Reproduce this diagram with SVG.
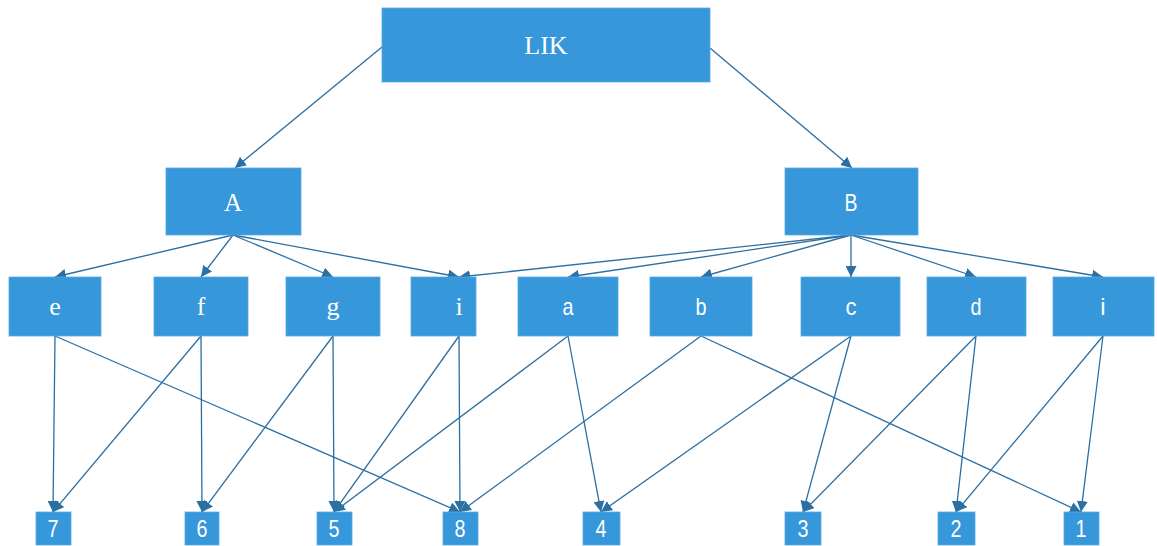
<svg xmlns="http://www.w3.org/2000/svg" width="1157" height="546" viewBox="0 0 1157 546">
<style>
.box{fill:#3697da;stroke:#5aaae0;stroke-width:0.8}
.serif{font-family:"Liberation Serif","DejaVu Serif",serif;fill:#fff;text-anchor:middle}
.sans{font-family:"Liberation Sans Narrow","Liberation Sans",sans-serif;fill:#fff;text-anchor:middle}
.edge{stroke:#2c6fa3;stroke-width:1.3;fill:none;marker-end:url(#ah)}
</style>
<defs>
<marker id="ah" viewBox="0 0 10 10" refX="10" refY="5" markerWidth="11" markerHeight="11" markerUnits="userSpaceOnUse" orient="auto">
<path d="M0,0 L10,5 L0,10 z" fill="#2c6fa3"/>
</marker>
</defs>
<rect width="1157" height="546" fill="#fff"/>
<g id="connectors">
<line class="edge" x1="382" y1="47" x2="235" y2="168"/>
<line class="edge" x1="710" y1="48" x2="852" y2="168"/>
<line class="edge" x1="233" y1="235" x2="55" y2="277"/>
<line class="edge" x1="233" y1="235" x2="201" y2="277"/>
<line class="edge" x1="233" y1="235" x2="333" y2="277"/>
<line class="edge" x1="233" y1="235" x2="459" y2="277"/>
<line class="edge" x1="851" y1="235" x2="459" y2="277"/>
<line class="edge" x1="851" y1="235" x2="568" y2="277"/>
<line class="edge" x1="851" y1="235" x2="701" y2="277"/>
<line class="edge" x1="851" y1="235" x2="851" y2="277"/>
<line class="edge" x1="851" y1="235" x2="976" y2="277"/>
<line class="edge" x1="851" y1="235" x2="1103" y2="277"/>
<line class="edge" x1="55" y1="336" x2="53" y2="512"/>
<line class="edge" x1="55" y1="336" x2="460" y2="512"/>
<line class="edge" x1="201" y1="336" x2="53" y2="512"/>
<line class="edge" x1="201" y1="336" x2="202" y2="512"/>
<line class="edge" x1="333" y1="336" x2="202" y2="512"/>
<line class="edge" x1="333" y1="336" x2="334" y2="512"/>
<line class="edge" x1="459" y1="336" x2="334" y2="512"/>
<line class="edge" x1="459" y1="336" x2="460" y2="512"/>
<line class="edge" x1="568" y1="336" x2="334" y2="512"/>
<line class="edge" x1="568" y1="336" x2="601" y2="512"/>
<line class="edge" x1="701" y1="336" x2="460" y2="512"/>
<line class="edge" x1="701" y1="336" x2="1081" y2="512"/>
<line class="edge" x1="851" y1="336" x2="601" y2="512"/>
<line class="edge" x1="851" y1="336" x2="803" y2="512"/>
<line class="edge" x1="976" y1="336" x2="803" y2="512"/>
<line class="edge" x1="976" y1="336" x2="956" y2="512"/>
<line class="edge" x1="1103" y1="336" x2="956" y2="512"/>
<line class="edge" x1="1103" y1="336" x2="1081" y2="512"/>
</g>
<g id="n-LIK"><rect class="box" x="382" y="8" width="328" height="74"/><text class="serif" x="546" y="54" font-size="26">LIK</text></g>
<g id="n-A"><rect class="box" x="166" y="168" width="135" height="67"/><text class="serif" x="233" y="211" font-size="25">A</text></g>
<g id="n-B"><rect class="box" x="785" y="168" width="133" height="67"/><text class="sans" x="851" y="211" font-size="24" textLength="13" lengthAdjust="spacingAndGlyphs">B</text></g>
<g id="n-e"><rect class="box" x="9" y="277" width="92" height="59"/><text class="serif" x="55" y="315" font-size="26">e</text></g>
<g id="n-f"><rect class="box" x="154" y="277" width="94" height="59"/><text class="serif" x="201" y="315" font-size="26">f</text></g>
<g id="n-g"><rect class="box" x="286" y="277" width="94" height="59"/><text class="serif" x="333" y="315" font-size="26">g</text></g>
<g id="n-i1"><rect class="box" x="411" y="277" width="65" height="59"/><text class="serif" x="459" y="315" font-size="26">i</text></g>
<g id="n-a"><rect class="box" x="518" y="277" width="100" height="59"/><text class="sans" x="568" y="315" font-size="24" textLength="11" lengthAdjust="spacingAndGlyphs">a</text></g>
<g id="n-b"><rect class="box" x="650" y="277" width="102" height="59"/><text class="sans" x="701" y="315" font-size="24" textLength="11" lengthAdjust="spacingAndGlyphs">b</text></g>
<g id="n-c"><rect class="box" x="801" y="277" width="99" height="59"/><text class="sans" x="851" y="315" font-size="24" textLength="11" lengthAdjust="spacingAndGlyphs">c</text></g>
<g id="n-d"><rect class="box" x="927" y="277" width="99" height="59"/><text class="sans" x="976" y="315" font-size="24" textLength="11" lengthAdjust="spacingAndGlyphs">d</text></g>
<g id="n-i2"><rect class="box" x="1053" y="277" width="101" height="59"/><text class="sans" x="1103" y="315" font-size="24">i</text></g>
<g id="n-7"><rect class="box" x="36" y="512" width="35" height="33"/><text class="sans" x="53" y="537" font-size="24" textLength="11" lengthAdjust="spacingAndGlyphs">7</text></g>
<g id="n-6"><rect class="box" x="185" y="512" width="34" height="33"/><text class="sans" x="202" y="537" font-size="24" textLength="11" lengthAdjust="spacingAndGlyphs">6</text></g>
<g id="n-5"><rect class="box" x="317" y="512" width="35" height="33"/><text class="sans" x="334" y="537" font-size="24" textLength="11" lengthAdjust="spacingAndGlyphs">5</text></g>
<g id="n-8"><rect class="box" x="443" y="512" width="35" height="33"/><text class="sans" x="460" y="537" font-size="24" textLength="11" lengthAdjust="spacingAndGlyphs">8</text></g>
<g id="n-4"><rect class="box" x="583" y="512" width="37" height="33"/><text class="sans" x="601" y="537" font-size="24" textLength="11" lengthAdjust="spacingAndGlyphs">4</text></g>
<g id="n-3"><rect class="box" x="785" y="512" width="36" height="33"/><text class="sans" x="803" y="537" font-size="24" textLength="11" lengthAdjust="spacingAndGlyphs">3</text></g>
<g id="n-2"><rect class="box" x="938" y="512" width="37" height="33"/><text class="sans" x="956" y="537" font-size="24" textLength="11" lengthAdjust="spacingAndGlyphs">2</text></g>
<g id="n-1"><rect class="box" x="1064" y="512" width="35" height="33"/><text class="sans" x="1081" y="537" font-size="24" textLength="11" lengthAdjust="spacingAndGlyphs">1</text></g>
</svg>
